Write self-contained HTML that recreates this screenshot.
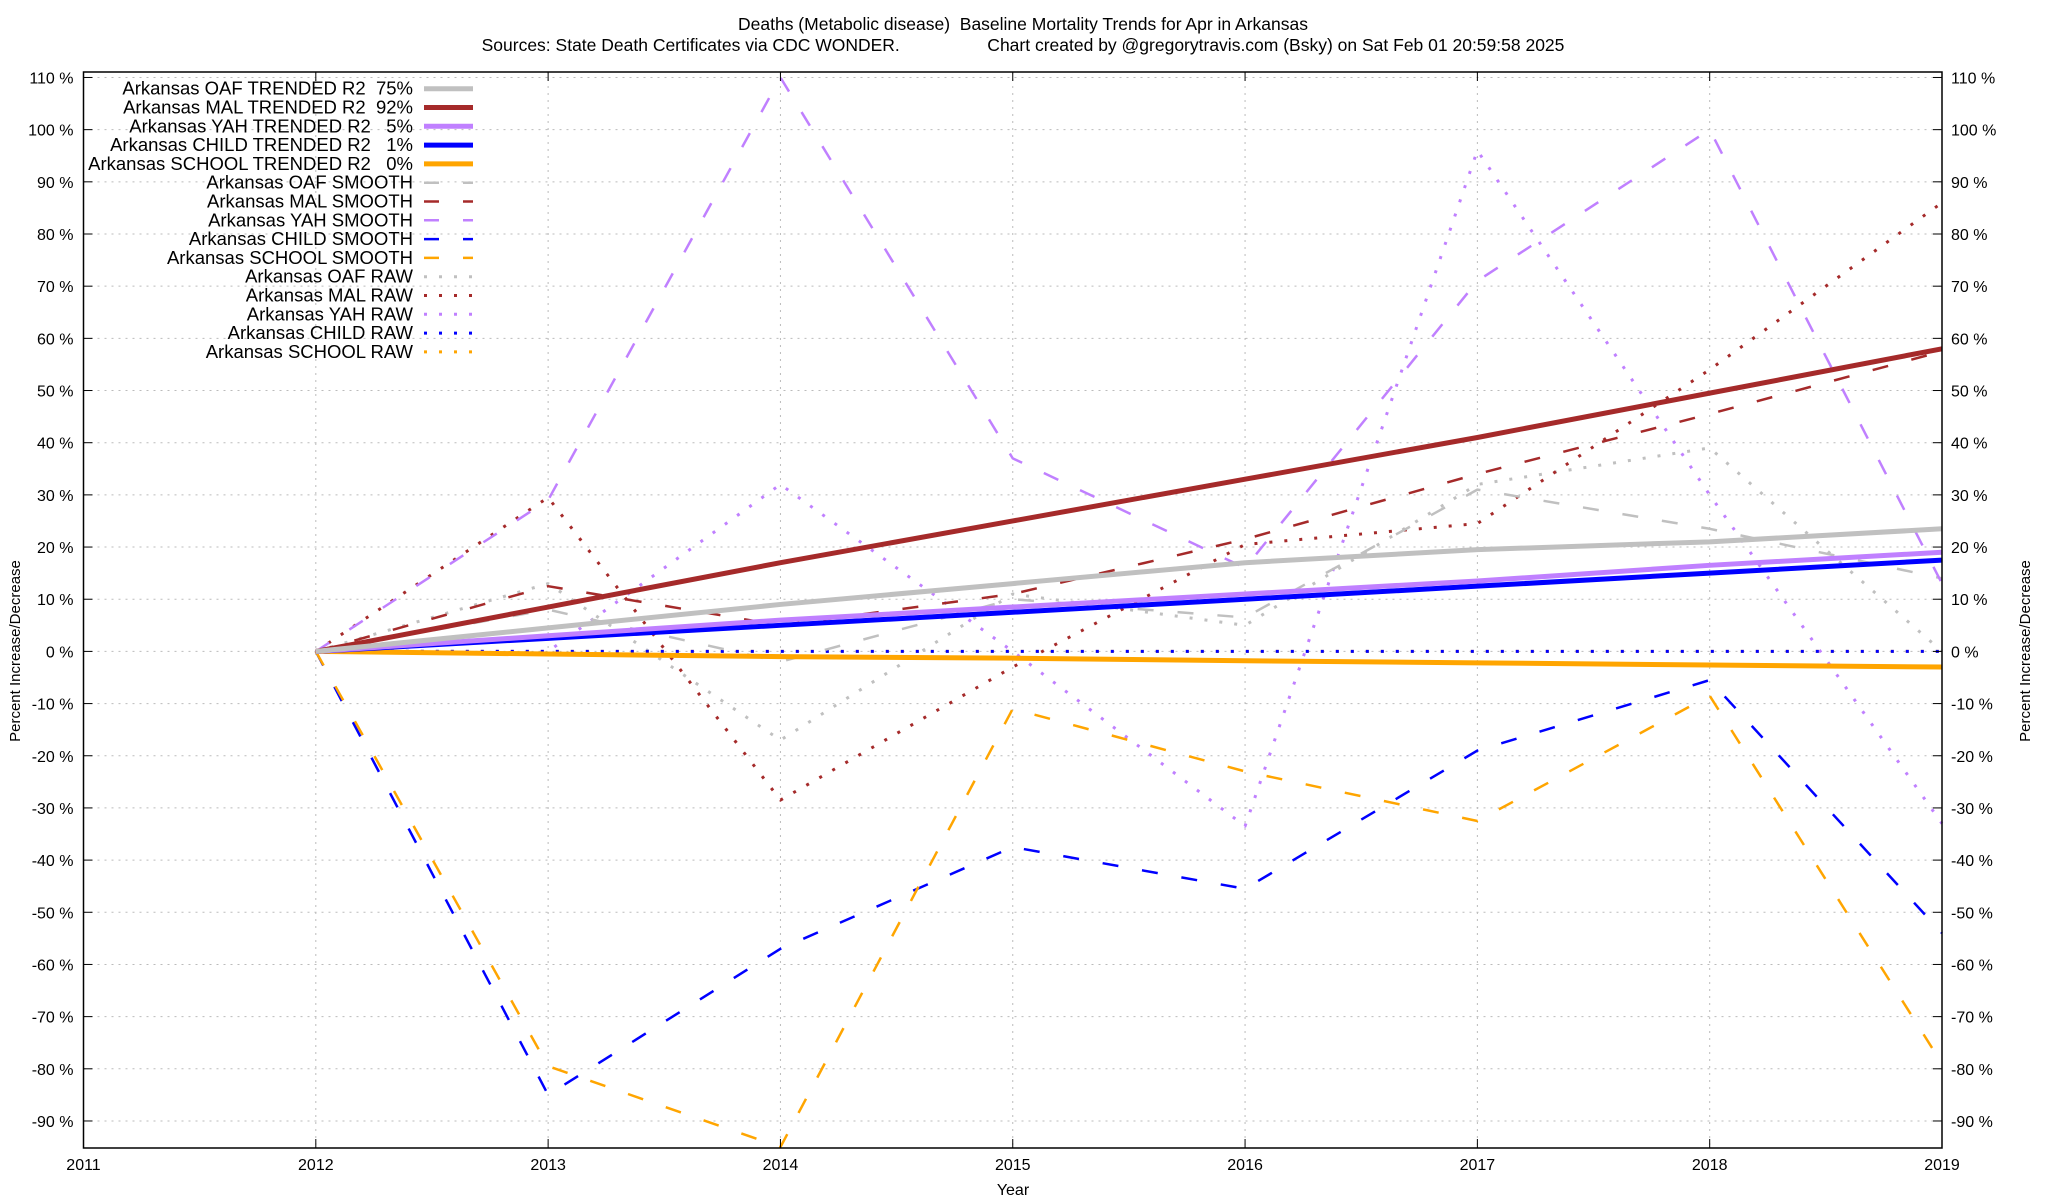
<!DOCTYPE html>
<html><head><meta charset="utf-8"><style>
body{margin:0;background:#fff}
svg{display:block;font-family:"Liberation Sans",sans-serif}
text{white-space:pre}
</style></head><body>
<svg id="c" width="2048" height="1200" xmlns="http://www.w3.org/2000/svg"></svg>
<script>
const years=[2012,2013,2014,2015,2016,2017,2018,2019];
const xTicks=[2011,2012,2013,2014,2015,2016,2017,2018,2019];
const yTicks=[110,100,90,80,70,60,50,40,30,20,10,0,-10,-20,-30,-40,-50,-60,-70,-80,-90];
const oafTrend=[0,4.5,9,13,17,19.5,21,23.5];
const malTrend=[0,8.5,17,25,33,41,49.5,58];
const yahTrend=[0,3,6,8.5,11,13.5,16.5,19];
const childTrend=[0,2.5,5,7.5,10,12.5,15,17.5];
const schoolTrend=[0,-0.5,-1,-1.3,-1.8,-2.2,-2.6,-3];
const oafSmooth=[0,8,-2,10,6.5,31,23.5,14];
const malSmooth=[0,12.5,5,11,21.5,34,45.5,57.5];
const yahSmooth=[0,29,110,37,16,71,100,13];
const childSmooth=[0,-85,-57,-37.5,-45.5,-19,-5.5,-54];
const schoolSmooth=[0,-79.5,-95,-11,-23,-32.5,-8.5,-79];
const oafRaw=[0,13,-17,11,5,32,39,0];
const malRaw=[0,29.5,-28.5,-3,20.5,24.5,54,86];
const yahRaw=[0,0,32,0,-33.5,96,30,-33];
const childRaw=[0,0,0,0,0,0,0,0];
const schoolRaw=[0,0,0,0,0,0,0,0];

const L=83.5,R=1942,T=72,B=1148;
const X=y=>L+(y-2011)*(R-L)/8;
const Y=v=>651.4-v*5.2175;
const svg=document.getElementById('c');
const NS='http://www.w3.org/2000/svg';
function mk(tag,attrs,parent){const e=document.createElementNS(NS,tag);for(const k in attrs)e.setAttribute(k,attrs[k]);(parent||svg).appendChild(e);return e;}
function txt(s,x,y,anchor,size,extra){const t=mk('text',Object.assign({x:x,y:y,'text-anchor':anchor,'font-size':size},extra||{}));t.textContent=s;return t;}

for(const v of yTicks){const l=mk('line',{x1:L,x2:R,y1:Y(v),y2:Y(v),stroke:'#bbb','stroke-width':1,'stroke-dasharray':'2,5'});

}
for(const v of xTicks){const l=mk('line',{x1:X(v),x2:X(v),y1:T,y2:B,stroke:'#bbb','stroke-width':1,'stroke-dasharray':'2,5'});

}

const series=[
 [schoolRaw,'#ffa500','raw','school-raw'],[oafRaw,'#c0c0c0','raw','oaf-raw'],[malRaw,'#a52a2a','raw','mal-raw'],[yahRaw,'#c080ff','raw','yah-raw'],[childRaw,'#0000ff','raw','child-raw'],
 [oafSmooth,'#c0c0c0','smooth','oaf-smooth'],[malSmooth,'#a52a2a','smooth','mal-smooth'],[yahSmooth,'#c080ff','smooth','yah-smooth'],[childSmooth,'#0000ff','smooth','child-smooth'],[schoolSmooth,'#ffa500','smooth','school-smooth'],
 [schoolTrend,'#ffa500','trend','school-trend'],[childTrend,'#0000ff','trend','child-trend'],[yahTrend,'#c080ff','trend','yah-trend'],[malTrend,'#a52a2a','trend','mal-trend'],[oafTrend,'#c0c0c0','trend','oaf-trend']
];
const styles={trend:{w:5,d:'none'},smooth:{w:2.5,d:'16,24'},raw:{w:3,d:'3,12'}};
for(const [vals,col,kind,name] of series){
 const st=styles[kind];
 const pts=vals.map((v,i)=>X(years[i])+','+Y(v)).join(' ');
 const p=mk('polyline',{points:pts,fill:'none',stroke:col,'stroke-width':st.w,'stroke-dasharray':st.d,'stroke-linejoin':'round'});
 
 
}

const bd=mk('rect',{x:L,y:T,width:R-L,height:B-T,fill:'none',stroke:'#000','stroke-width':1.5});



for(const v of yTicks){
 mk('line',{x1:L,x2:L+9,y1:Y(v),y2:Y(v),stroke:'#000','stroke-width':1});
 mk('line',{x1:R-9,x2:R,y1:Y(v),y2:Y(v),stroke:'#000','stroke-width':1});
 const a=txt(v+' %',L-10,Y(v)+6,'end',16);
 
 
 const b=txt(v+' %',R+9,Y(v)+6,'start',16);
 
 
}
for(const v of xTicks){
 mk('line',{x1:X(v),x2:X(v),y1:B-9,y2:B,stroke:'#000','stroke-width':1});
 mk('line',{x1:X(v),x2:X(v),y1:T,y2:T+9,stroke:'#000','stroke-width':1});
 const a=txt(String(v),X(v),1170,'middle',16);
 
 
}
let t=txt('Year',1013,1195,'middle',16);


t=txt('Percent Increase/Decrease',0,0,'middle',15,{transform:'translate(20,651) rotate(-90)'});


t=txt('Percent Increase/Decrease',0,0,'middle',15,{transform:'translate(2030,651) rotate(-90)'});


t=txt('Deaths (Metabolic disease)  Baseline Mortality Trends for Apr in Arkansas',1023,30,'middle',17.5);


t=txt('Sources: State Death Certificates via CDC WONDER.                  Chart created by @gregorytravis.com (Bsky) on Sat Feb 01 20:59:58 2025',1023,51,'middle',17.5);



const legend=[
 ['Arkansas OAF TRENDED R2  75%','#c0c0c0','trend'],['Arkansas MAL TRENDED R2  92%','#a52a2a','trend'],['Arkansas YAH TRENDED R2   5%','#c080ff','trend'],['Arkansas CHILD TRENDED R2   1%','#0000ff','trend'],['Arkansas SCHOOL TRENDED R2   0%','#ffa500','trend'],
 ['Arkansas OAF SMOOTH','#c0c0c0','smooth'],['Arkansas MAL SMOOTH','#a52a2a','smooth'],['Arkansas YAH SMOOTH','#c080ff','smooth'],['Arkansas CHILD SMOOTH','#0000ff','smooth'],['Arkansas SCHOOL SMOOTH','#ffa500','smooth'],
 ['Arkansas OAF RAW','#c0c0c0','raw'],['Arkansas MAL RAW','#a52a2a','raw'],['Arkansas YAH RAW','#c080ff','raw'],['Arkansas CHILD RAW','#0000ff','raw'],['Arkansas SCHOOL RAW','#ffa500','raw']
];
legend.forEach((e,i)=>{
 const y=88.7+i*18.8;
 const g=mk('g',{});
 
 
 const tt=txt(e[0],413,y+6,'end',18.5);g.appendChild(tt);
 const st=styles[e[2]];
 mk('line',{x1:424,x2:473,y1:y,y2:y,stroke:e[1],'stroke-width':st.w,'stroke-dasharray':e[2]==='smooth'?'15,24':(e[2]==='raw'?'3,12':'none')},g);
});
</script>
</body></html>
